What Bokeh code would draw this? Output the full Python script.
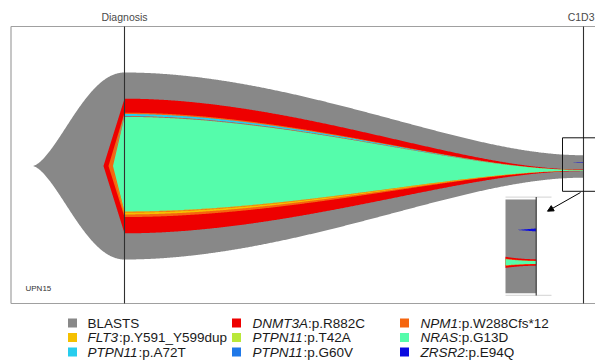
import numpy as np
from bokeh.plotting import figure
from bokeh.models import Range1d, Arrow, NormalHead
from bokeh.core.properties import value
from bokeh.embed import file_html
from bokeh.resources import INLINE

# ---------------- data ----------------
timepoints = [0.0, 1.0]
timepoint_labels = ["Diagnosis", "C1D3"]
sample_label = "UPN15"

clones = ["BLASTS", "ZRSR2:p.E94Q", "DNMT3A:p.R882C", "NPM1:p.W288Cfs*12",
          "PTPN11:p.A72T", "PTPN11:p.G60V", "NRAS:p.G13D",
          "PTPN11:p.T42A", "FLT3:p.Y591_Y599dup"]
colors = ["#888888", "#0a0ae0", "#ee0000", "#f5650f",
          "#27cdee", "#1f78e8", "#55fcab",
          "#b9e83a", "#f5c000"]
# band limits (percent of cells, stacked around the fish centre)
diag_lo = [-50.0, np.nan, -36.0, -27.3, 26.75, 26.35, -24.3, -24.55, -25.9]
diag_hi = [50.0, np.nan, 36.0, 28.5, 27.8, 26.55, 26.25, -24.3, -24.9]
c1d3_lo = [-6.25, 1.66, -2.73, -2.55, -2.13, -2.13, -2.5, -2.5, -2.5]
c1d3_hi = [5.75, 2.04, -1.9, -2.08, -2.13, -2.13, -2.13, -2.5, -2.5]
# time at which each clone emerges (timepoint units)
emergence = [-0.2004, 0.9715, -0.0458, -0.0349, -0.0283, -0.0283, -0.0251, -0.0283, -0.0283]
lead_shape = ["smooth", "straight", "straight", "straight", "straight",
              "straight", "straight", "straight", "straight"]

legend_order = ["BLASTS", "DNMT3A:p.R882C", "NPM1:p.W288Cfs*12",
                "FLT3:p.Y591_Y599dup", "PTPN11:p.T42A", "NRAS:p.G13D",
                "PTPN11:p.A72T", "PTPN11:p.G60V", "ZRSR2:p.E94Q"]

# ---------------- layout helpers ----------------
W, H = 595, 362
PX_X = 459.0     # pixels per timepoint unit
PX_Y = 1.87      # pixels per percent
X0_PAGE, Y0_PAGE = 124.0, 165.5


def X(px):
    return (px - X0_PAGE) / PX_X


def Y(py):
    return (Y0_PAGE - py) / PX_Y


p = figure(width=W, height=H, output_backend="svg", toolbar_location=None,
           x_range=Range1d(X(0), X(W)), y_range=Range1d(Y(H), Y(0)),
           min_border=0)
p.axis.visible = False
p.grid.visible = False
p.outline_line_color = None
p.background_fill_color = "white"
p.border_fill_color = "white"


def ease(u):
    return (1 - np.cos(np.pi * np.clip(u, 0, 1))) / 2


def warp(u):
    return u - 0.3 * u ** 2 * (1 - u)


def band(i, x):
    lo = np.zeros_like(x)
    hi = np.zeros_like(x)
    tip = emergence[i]
    if tip < timepoints[0]:
        pre = x <= timepoints[0]
        u = (x[pre] - tip) / (timepoints[0] - tip)
        s = ease(u ** 0.8) if lead_shape[i] == "smooth" else u
        lo[pre] = diag_lo[i] * s
        hi[pre] = diag_hi[i] * s
        post = ~pre
        e = ease(warp((x[post] - timepoints[0]) / (timepoints[1] - timepoints[0])))
        lo[post] = diag_lo[i] + (c1d3_lo[i] - diag_lo[i]) * e
        hi[post] = diag_hi[i] + (c1d3_hi[i] - diag_hi[i]) * e
    else:
        mid = (c1d3_lo[i] + c1d3_hi[i]) / 2
        s = (x - tip) / (timepoints[1] - tip)
        lo = mid + (c1d3_lo[i] - mid) * s
        hi = mid + (c1d3_hi[i] - mid) * s
    return lo, hi


def xs_for(i):
    tip = emergence[i]
    if tip < timepoints[0]:
        return np.concatenate([np.linspace(tip, timepoints[0], 150),
                               np.linspace(timepoints[0], timepoints[1], 450)[1:]])
    return np.linspace(tip, timepoints[1], 100)


# ---------------- fish ----------------
for i, c in enumerate(clones):
    xs = xs_for(i)
    lo, hi = band(i, xs)
    p.patch(np.concatenate([xs, xs[::-1]]), np.concatenate([hi, lo[::-1]]),
            fill_color=colors[i], line_color=None)

# ---------------- frame and timepoint lines ----------------
frame_col = "#a0a0a0"
p.line([X(10.5), X(10.5)], [Y(26), Y(303)], line_color=frame_col, line_width=1.2)
p.line([X(10.5), X(610)], [Y(26), Y(26)], line_color=frame_col, line_width=1.2)
p.line([X(10.5), X(610)], [Y(303), Y(303)], line_color=frame_col, line_width=1.2)
label_x = [timepoints[0], X(594)]
label_align = ["center", "right"]
for t, lab, lx, la in zip(timepoints, timepoint_labels, label_x, label_align):
    p.line([t, t], [Y(26), Y(303)], line_color="#303030", line_width=1.1)
    p.text([lx], [Y(16)], text=[lab], text_align=la, text_baseline="middle",
           text_font=value("Liberation Sans"), text_font_size="10.5px",
           text_color="#4a4a4a")

p.text([X(25)], [Y(288)], text=[sample_label], text_align="left",
       text_baseline="middle", text_font=value("Liberation Sans"),
       text_font_size="8px", text_color="#333333")

# ---------------- zoom box, arrow and inset ----------------
t0 = X(562)
p.quad(left=[t0], right=[X(610)], top=[Y(137.3)], bottom=[Y(190.8)],
       fill_color=None, line_color="#111111", line_width=1)
p.add_layout(Arrow(end=NormalHead(size=6, fill_color="black", line_color="black"),
                   x_start=X(580), y_start=Y(192), x_end=X(547), y_end=Y(210.7),
                   line_color="black", line_width=1))

ix0, ix1 = X(505), X(535.7)
iy_top, iy_bot = Y(199), Y(292.7)
g_lo, g_hi = c1d3_lo[0], c1d3_hi[0]


def inset_xy(xs, ys):
    xi = ix0 + (xs - t0) / (timepoints[1] - t0) * (ix1 - ix0)
    yi = iy_bot + (np.clip(ys, g_lo, g_hi) - g_lo) / (g_hi - g_lo) * (iy_top - iy_bot)
    return xi, yi


p.quad(left=[ix0], right=[ix1], top=[iy_top], bottom=[iy_bot],
       fill_color=colors[0], line_color=None)
for i in range(1, len(clones)):
    xs = np.linspace(max(t0, emergence[i]), timepoints[1], 60)
    lo, hi = band(i, xs)
    xi, yhi = inset_xy(xs, hi)
    _, ylo = inset_xy(xs, lo)
    p.patch(np.concatenate([xi, xi[::-1]]), np.concatenate([yhi, ylo[::-1]]),
            fill_color=colors[i], line_color=None)
p.line([ix0, X(551)], [Y(196.6), Y(196.6)], line_color="#d2d2d2", line_width=1)
p.line([ix0, X(551)], [Y(294.8), Y(294.8)], line_color="#d2d2d2", line_width=1)
p.line([ix1, ix1], [Y(196.6), Y(295)], line_color="#303030", line_width=1.1)

# ---------------- legend ----------------
ARIAL = {"A": 667, "B": 667, "C": 722, "D": 722, "E": 667, "F": 611, "G": 778,
         "H": 722, "I": 278, "J": 500, "K": 667, "L": 556, "M": 833, "N": 722,
         "O": 778, "P": 667, "Q": 778, "R": 722, "S": 667, "T": 611, "U": 722,
         "V": 667, "W": 944, "X": 667, "Y": 667, "Z": 611}
FS = 13.5


def text_w(s):
    return sum(ARIAL.get(ch, 556) for ch in s) / 1000.0 * FS


col_sq = [72, 236, 404]
col_tx = [87, 252, 420]
row_y = [322.5, 337, 351.5]
for k, name in enumerate(legend_order):
    r, cidx = divmod(k, 3)
    ci = clones.index(name)
    yy = Y(row_y[r])
    p.scatter([X(col_sq[cidx])], [yy], marker="square", size=9,
              fill_color=colors[ci], line_color=None)
    if ":" in name:
        gene, rest = name.split(":", 1)
        p.text([X(col_tx[cidx])], [yy], text=[gene], text_align="left",
               text_baseline="middle", text_font=value("Liberation Sans"),
               text_font_size=f"{FS}px", text_font_style="italic",
               text_color="#1a1a1a")
        p.text([X(col_tx[cidx] + text_w(gene))], [yy], text=[":" + rest],
               text_align="left", text_baseline="middle",
               text_font=value("Liberation Sans"), text_font_size=f"{FS}px",
               text_color="#1a1a1a")
    else:
        p.text([X(col_tx[cidx])], [yy], text=[name], text_align="left",
               text_baseline="middle", text_font=value("Liberation Sans"),
               text_font_size=f"{FS}px", text_color="#1a1a1a")

open("out.html", "w").write(file_html(p, INLINE))
